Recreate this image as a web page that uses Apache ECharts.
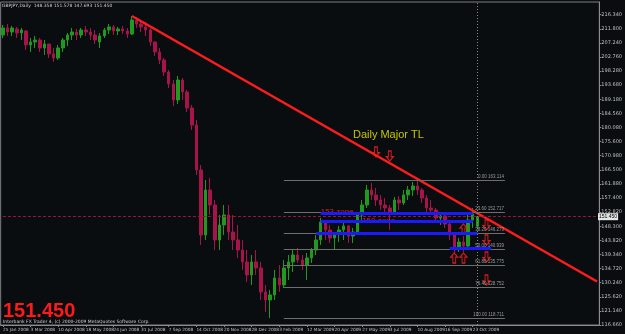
<!DOCTYPE html>
<html>
<head>
<meta charset="utf-8">
<script src="https://cdn.jsdelivr.net/npm/echarts/dist/echarts.min.js"></script>
<style>
html,body{margin:0;padding:0;background:#0a0d10;}
#chart{width:625px;height:334px;}
</style>
</head>
<body>
<div id="chart"></div>
<script>
// GBPJPY daily, grouped ~5 bars per candle
var dateLabels = ['25 Jan 2008','3 Mar 2008','10 Apr 2008','18 May 2008','24 Jun 2008','31 Jul 2008','7 Sep 2008','14 Oct 2008','20 Nov 2008','28 Dec 2008','3 Feb 2009','12 Mar 2009','20 Apr 2009','27 May 2009','3 Jul 2009','10 Aug 2009','16 Sep 2009','23 Oct 2009'];
var yLabels = ['116.660','121.140','125.620','130.240','134.720','139.340','143.820','148.300','152.820','157.400','161.880','166.500','170.980','175.600','180.080','184.560','189.180','193.680','198.280','202.760','207.240','211.800','216.340'];

var opens = [209.82,212.07,210.78,211.75,210.46,211.10,206.61,207.57,208.21,205.64,
  206.93,203.72,202.43,205.64,208.21,209.82,210.78,209.82,211.42,210.78,
  209.82,207.57,209.50,211.42,212.39,211.10,211.75,211.10,210.14,214.64,
  213.35,212.39,211.42,207.57,204.36,201.79,197.93,194.08,188.94,195.36,
  191.51,186.37,180.91,166.46,145.58,160.03,155.21,143.97,148.79,152.00,
  146.54,143.97,140.76,136.91,132.73,136.91,134.98,127.27,124.70,126.31,
  131.77,129.52,134.98,136.91,139.15,137.55,135.94,138.19,140.76,143.97,
  149.75,147.18,144.61,145.90,147.18,148.47,145.26,146.54,152.00,155.21,
  160.03,158.43,156.82,155.21,154.25,152.96,156.82,155.86,158.43,160.03,
  161.32,160.03,157.46,154.25,153.61,151.04,151.68,149.11,145.58,141.40,
  143.33,142.04,150.40,148.36];
var closes = [212.07,210.78,212.07,210.46,211.42,206.61,207.57,208.21,205.64,206.93,
  203.72,202.43,205.64,208.21,209.82,210.78,209.82,211.42,210.78,209.82,
  208.21,209.50,211.42,212.39,211.10,211.75,211.10,210.14,214.64,213.35,
  212.39,211.42,207.57,204.36,201.79,197.93,194.08,188.94,195.36,191.51,
  186.37,180.91,166.46,145.58,160.03,155.21,143.97,148.79,152.00,146.54,
  143.97,140.76,136.91,132.73,136.91,134.98,127.27,124.70,126.31,131.77,
  129.52,134.98,136.91,139.15,137.55,135.94,138.19,140.76,143.97,149.75,
  147.18,144.61,145.90,147.18,148.47,145.26,146.54,152.00,155.21,160.03,
  158.43,156.82,155.21,154.25,152.96,156.82,155.86,158.43,160.03,161.32,
  160.03,157.46,154.25,153.61,151.04,151.68,149.11,145.58,141.40,143.33,
  142.04,150.40,152.32,151.45];
var highs = [213.03,213.35,212.71,212.39,212.07,211.42,208.85,209.50,208.85,208.21,
  206.93,205.64,206.61,208.85,210.46,212.07,211.75,212.07,212.71,212.07,
  211.42,210.46,212.07,213.35,213.03,212.39,212.71,212.07,215.92,215.60,
  214.64,214.00,212.07,207.57,205.64,202.43,198.58,195.36,196.65,196.01,
  192.15,187.33,182.52,168.06,163.24,163.89,156.82,152.00,155.21,155.21,
  152.00,148.79,143.97,140.76,139.15,140.76,136.91,129.52,127.91,134.34,
  135.94,137.55,139.15,140.76,141.40,139.15,139.80,141.40,145.58,151.04,
  150.40,148.79,146.54,148.47,149.75,148.79,147.83,152.96,156.82,161.64,
  162.28,160.67,158.43,157.46,155.21,157.78,158.10,160.03,161.32,162.60,
  163.24,160.67,158.43,156.82,154.25,152.96,152.00,149.75,145.58,144.61,
  145.26,152.00,154.25,151.58];
var lows = [208.85,209.50,209.50,208.85,208.21,205.00,204.36,205.64,204.36,203.39,
  202.43,201.15,201.79,204.36,206.28,208.21,208.21,208.85,209.50,208.21,
  206.93,205.64,208.85,210.14,209.82,209.82,210.14,208.85,209.82,212.07,
  210.78,209.50,206.28,203.07,200.50,196.65,192.79,187.01,187.66,188.94,
  185.09,179.30,164.85,142.37,143.97,152.00,140.76,140.76,145.58,143.97,
  140.76,138.19,134.34,130.48,129.52,132.73,124.70,120.85,118.92,124.70,
  127.27,128.55,131.12,133.69,136.59,134.34,131.12,136.59,139.15,142.37,
  143.97,143.01,140.76,143.33,143.97,143.01,143.01,146.54,150.40,154.25,
  156.82,154.89,153.61,152.64,147.18,152.64,153.61,155.21,156.82,158.10,
  158.43,155.86,152.96,152.00,149.75,148.79,147.83,143.97,139.80,140.12,
  140.12,141.40,147.83,147.69];

// fibonacci levels and zones
var fibLevels = [163.114,152.717,146.273,140.939,135.775,128.752,118.711];
var fibNames = ['0.00','23.60','38.20','50.00','61.80','76.40','100.00'];
var zoneLines = [[69,102,152.70],[69,102,149.98],[68,103,146.12],[97,106,141.17]];
var upArrows = [[98,138.19],[100,138.19],[100,147.5]];
var downArrows = [[105,148.8],[105,143.97],[105,138.5],[105,131.1],[81,172.24],[84,170.95]];

var nCats = 130, step = 6;
var cats = [];
for (var i = 0; i < nCats; i++) {
  cats.push(i % step === 0 && dateLabels[i / step] ? dateLabels[i / step] : 'b' + i);
}
var candles = [];
for (var i = 0; i < opens.length; i++) {
  candles.push([opens[i], closes[i], lows[i], highs[i]]);
}
function isLabel(idx){ return idx % step === 0 && idx / step < dateLabels.length; }

var yMin = 116.66, yStep = 4.5309, yMax = 220.41;
var lastPrice = 151.45;

var marks = [];
// trend line
marks.push([{coord:[28,215.92], lineStyle:{color:'#ff1c1c', width:2.5, type:'solid'}}, {coord:[129,130.64]}]);
// price line
marks.push([{coord:[0,lastPrice], lineStyle:{color:'#9a1636', width:1, type:[3,2]},
  label:{show:true, position:'end', formatter:'151.450', color:'#000', backgroundColor:'#e6e6e6', fontSize:5, padding:[1,1], distance:1}},
  {coord:[nCats-1,lastPrice]}]);
// period separator
marks.push({xAxis:103, lineStyle:{color:'#8a8a8a', width:1, type:[1,2]}});
// fib lines
for (var f = 0; f < fibLevels.length; f++) {
  marks.push([{coord:[61,fibLevels[f]], lineStyle:{color:'#6e6e6e', width:1, type:'solid'},
    label:{show:true, position:'insideEndTop', formatter:fibNames[f] + ' ' + fibLevels[f].toFixed(3), color:'#9a9a9a', fontSize:4.5, distance:1}},
    {coord:[109,fibLevels[f]]}]);
}
// blue zones
zoneLines.forEach(function(z){
  marks.push([{coord:[z[0],z[2]], lineStyle:{color:'#1a1aff', width:3, type:'solid'}}, {coord:[z[1],z[2]]}]);
});

var arrowPath = 'path://M5,0 L10,5 L7,5 L7,12 L3,12 L3,5 L0,5 Z';

var chart = echarts.init(document.getElementById('chart'), null, {renderer:'canvas'});
chart.setOption({
  backgroundColor: '#0a0d10',
  animation: false,
  grid: {left:0, right:16, top:2, bottom:9, show:true, borderColor:'#7f7f7f', borderWidth:1, backgroundColor:'#0a0d10'},
  xAxis: {
    type: 'category', data: cats, boundaryGap: true,
    axisLine: {show:true, lineStyle:{color:'#8c8c8c'}},
    axisTick: {show:true, length:2, alignWithLabel:true, interval:isLabel, lineStyle:{color:'#8c8c8c'}},
    axisLabel: {interval:isLabel, showMinLabel:true, showMaxLabel:true, hideOverlap:false,
      formatter:function(v){ return v.charAt(0) === 'b' ? '' : v; },
      fontSize:4.3, color:'#c0c0c0', align:'left', margin:3, fontFamily:'DejaVu Sans'},
    splitLine: {show:false}
  },
  yAxis: {
    type: 'value', position: 'right', min: yMin, max: yMax, interval: yStep, scale: true,
    axisLine: {show:true, lineStyle:{color:'#8c8c8c'}},
    axisTick: {show:true, length:2, lineStyle:{color:'#8c8c8c'}},
    splitLine: {show:false},
    axisLabel: {fontSize:5, color:'#c0c0c0', margin:2, showMaxLabel:false, fontFamily:'DejaVu Sans',
      formatter:function(v){ var k = Math.round((v - yMin) / yStep); return yLabels[k] || ''; }}
  },
  series: [
    {
      name: 'GBPJPY', type: 'candlestick', data: candles, barWidth: 3,
      itemStyle: {color:'#1f9a1f', color0:'#a8144a', borderColor:'#1f9a1f', borderColor0:'#a8144a', borderWidth:1},
      markLine: {silent:true, symbol:['none','none'], animation:false, label:{show:false}, data: marks}
    },
    {
      name: 'up', type: 'scatter', data: upArrows, symbol: arrowPath, symbolSize: [7,10],
      itemStyle: {color:'#0a0d10', borderColor:'#ff2020', borderWidth:1.2}, silent:true
    },
    {
      name: 'down', type: 'scatter', data: downArrows, symbol: arrowPath, symbolSize: [7,10], symbolRotate: 180,
      itemStyle: {color:'#0a0d10', borderColor:'#ff2020', borderWidth:1.2}, silent:true
    },
    {
      name: 'notes', type: 'scatter', symbolSize: 0, silent: true,
      data: [
        {value:[76,177.54], label:{show:true, position:'right', distance:0, formatter:'Daily Major TL', color:'#eeee00', fontSize:11, fontFamily:'Liberation Sans'}},
        {value:[69,153.13], label:{show:true, position:'right', distance:0, formatter:'153 zone', color:'#ff2a2a', fontSize:8, fontFamily:'Liberation Sans'}},
        {value:[78,150.07], label:{show:true, position:'right', distance:0, formatter:'150 zone', color:'#ff2a2a', fontSize:8, fontFamily:'Liberation Sans'}}
      ]
    }
  ],
  graphic: [
    {type:'text', left:2, top:3, style:{text:'GBPJPY,Daily  148.358 151.578 147.693 151.450', fill:'#cfcfcf', fontSize:4.5, fontFamily:'DejaVu Sans'}},
    {type:'text', left:3, top:301, style:{text:'151.450', fill:'#ff1a1a', fontSize:20, fontWeight:'bold', fontFamily:'Liberation Sans'}},
    {type:'text', left:3, top:319, style:{text:'Interbank FX Trader 4, (c) 2000-2009 MetaQuotes Software Corp.', fill:'#cfcfcf', fontSize:4.5, fontFamily:'DejaVu Sans'}}
  ]
});
</script>
</body>
</html>
